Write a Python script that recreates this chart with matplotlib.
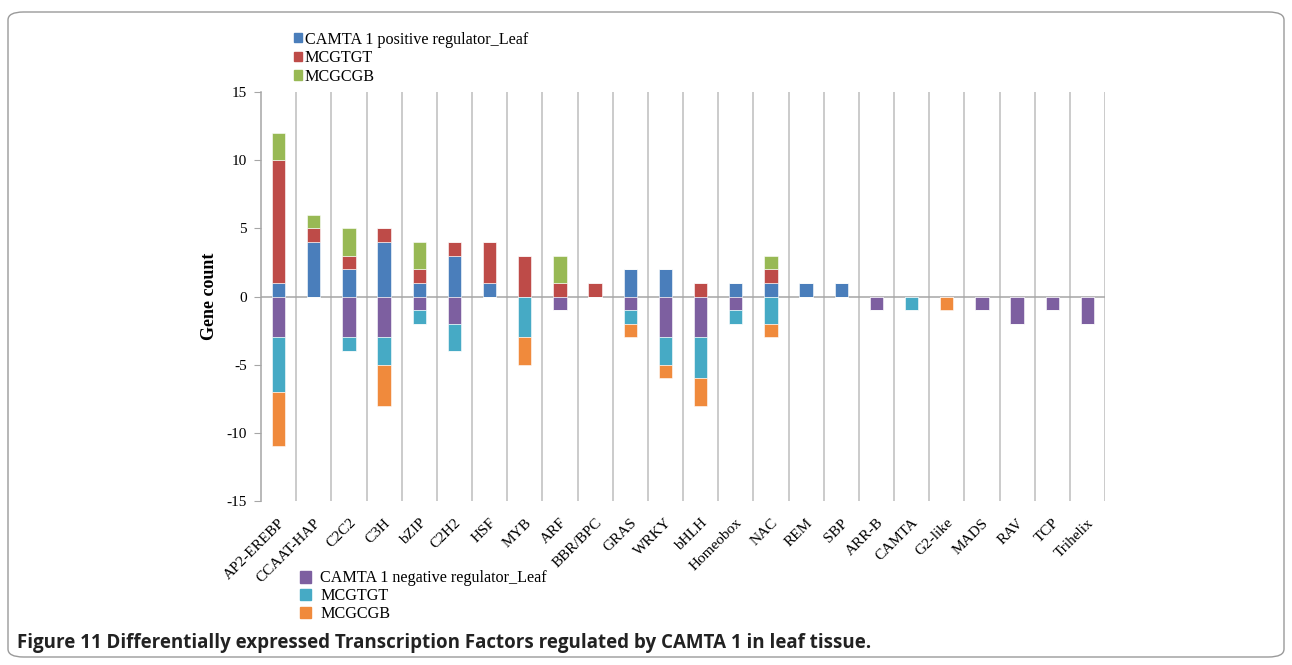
import numpy as np
import matplotlib.pyplot as plt
from matplotlib.patches import Patch, FancyBboxPatch

plt.rcParams['axes.unicode_minus'] = False

# ---------------------------- data ------------------------------------------ #
categories = ['AP2-EREBP', 'CCAAT-HAP', 'C2C2', 'C3H', 'bZIP', 'C2H2', 'HSF',
              'MYB', 'ARF', 'BBR/BPC', 'GRAS', 'WRKY', 'bHLH', 'Homeobox',
              'NAC', 'REM', 'SBP', 'ARR-B', 'CAMTA', 'G2-like', 'MADS', 'RAV',
              'TCP', 'Trihelix']

# positive regulator (stacked upward)
pos_leaf   = [1, 4, 2, 4, 1, 3, 1, 0, 0, 0, 2, 2, 0, 1, 1, 1, 1, 0, 0, 0, 0, 0, 0, 0]
pos_mcgtgt = [9, 1, 1, 1, 1, 1, 3, 3, 1, 1, 0, 0, 1, 0, 1, 0, 0, 0, 0, 0, 0, 0, 0, 0]
pos_mcgcgb = [2, 1, 2, 0, 2, 0, 0, 0, 2, 0, 0, 0, 0, 0, 1, 0, 0, 0, 0, 0, 0, 0, 0, 0]

# negative regulator (stacked downward)
neg_leaf   = [3, 0, 3, 3, 1, 2, 0, 0, 1, 0, 1, 3, 3, 1, 0, 0, 0, 1, 0, 0, 1, 2, 1, 2]
neg_mcgtgt = [4, 0, 1, 2, 1, 2, 0, 3, 0, 0, 1, 2, 3, 1, 2, 0, 0, 0, 1, 0, 0, 0, 0, 0]
neg_mcgcgb = [4, 0, 0, 3, 0, 0, 0, 2, 0, 0, 1, 1, 2, 0, 1, 0, 0, 0, 0, 1, 0, 0, 0, 0]

pos_labels = ['CAMTA 1 positive regulator_Leaf', 'MCGTGT', 'MCGCGB']
neg_labels = ['CAMTA 1 negative regulator_Leaf', 'MCGTGT', 'MCGCGB']
caption = 'Figure 11 Differentially expressed Transcription Factors regulated by CAMTA 1 in leaf tissue.'

# excel-ish palette
c_blue, c_red, c_green = '#4A7EBB', '#BE4B48', '#98B954'
c_purple, c_teal, c_orange = '#7D5FA0', '#46AAC5', '#F08A3C'
grid_col = '#BDBDBD'

# ---------------------------- figure ---------------------------------------- #
fig = plt.figure(figsize=(12.92, 6.65), dpi=100)
fig.patch.set_facecolor('white')

# rounded outer frame
frame = FancyBboxPatch((8 / 1292, 8 / 665), 1276 / 1292, 645 / 665,
                       boxstyle='round,pad=0,rounding_size=0.012',
                       transform=fig.transFigure, fill=False,
                       edgecolor='#9A9A9A', linewidth=1.0)
fig.patches.append(frame)

ax = fig.add_axes([261 / 1292, 1 - 501 / 665, (1105 - 261) / 1292, (501 - 92) / 665])

x = np.arange(len(categories))
w = 0.38
pl, pm, pc = map(np.array, (pos_leaf, pos_mcgtgt, pos_mcgcgb))
nl, nm, nc = map(np.array, (neg_leaf, neg_mcgtgt, neg_mcgcgb))

kw = dict(width=w, edgecolor='white', linewidth=0.4, zorder=3)
ax.bar(x, pl, color=c_blue, **kw)
ax.bar(x, pm, bottom=pl, color=c_red, **kw)
ax.bar(x, pc, bottom=pl + pm, color=c_green, **kw)
ax.bar(x, -nl, color=c_purple, **kw)
ax.bar(x, -nm, bottom=-nl, color=c_teal, **kw)
ax.bar(x, -nc, bottom=-nl - nm, color=c_orange, **kw)

ax.set_xlim(-0.5, len(categories) - 0.5)
ax.set_ylim(-15, 15)
ax.set_yticks(np.arange(-15, 16, 5))

# vertical gridlines at category boundaries
for b in np.arange(0.5, len(categories), 1.0):
    ax.axvline(b, color=grid_col, linewidth=1.1, zorder=1)
ax.axhline(0, color='#A6A6A6', linewidth=1.1, zorder=2)

for s in ['top', 'right', 'bottom']:
    ax.spines[s].set_visible(False)
ax.spines['left'].set_color('#A6A6A6')
ax.spines['left'].set_linewidth(1.1)

serif = ['Liberation Serif', 'DejaVu Serif']
ax.tick_params(axis='y', direction='out', length=5, color='#A6A6A6',
               labelsize=11, pad=5)
ax.tick_params(axis='x', length=0, pad=11)
ax.set_xticks(x)
ax.set_xticklabels(categories, rotation=45, ha='right', rotation_mode='anchor',
                   fontsize=11, family=serif)
for t in ax.get_yticklabels():
    t.set_family(serif)

ax.set_ylabel('Gene count', family=serif, fontsize=13, fontweight='bold',
              labelpad=6)

# legends
pos_handles = [Patch(color=c) for c in (c_blue, c_red, c_green)]
neg_handles = [Patch(color=c) for c in (c_purple, c_teal, c_orange)]
fig.legend(pos_handles, pos_labels, loc='upper left',
           bbox_to_anchor=(279 / 1292, 1 - 17 / 665), frameon=False,
           handlelength=0.5, handleheight=0.5, handletextpad=0.2,
           labelspacing=0.16, prop={'family': serif, 'size': 11.6})
fig.legend(neg_handles, neg_labels, loc='upper left',
           bbox_to_anchor=(285 / 1292, 1 - 556 / 665), frameon=False,
           handlelength=0.7, handleheight=0.7, handletextpad=0.6,
           labelspacing=0.12, prop={'family': serif, 'size': 11.6})

fig.text(17 / 1292, 1 - 648 / 665, caption, fontsize=13.5, fontweight='bold',
         family=['Open Sans', 'Liberation Sans', 'DejaVu Sans'],
         color='#222222', va='baseline')

fig.savefig('out.png', dpi=100)
